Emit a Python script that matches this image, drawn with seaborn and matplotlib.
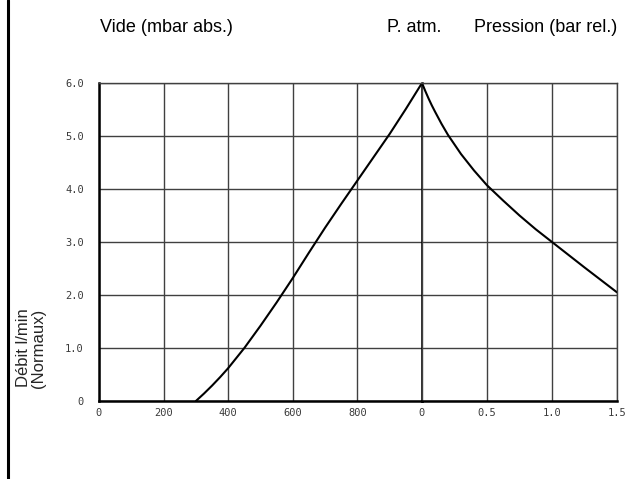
import numpy as np
import pandas as pd
import matplotlib
matplotlib.use("Agg")
import matplotlib.pyplot as plt
from matplotlib.lines import Line2D
import seaborn as sns

# ---- data ----
vide_mbar = [300, 325, 350, 375, 400, 450, 500, 550, 600, 650, 700, 750, 800, 850, 900, 950, 1000]
vide_flow = [0, 0.14, 0.29, 0.45, 0.62, 1.0, 1.42, 1.86, 2.32, 2.8, 3.27, 3.72, 4.16, 4.6, 5.04, 5.51, 6.0]

pression_bar = [0, 0.025, 0.05, 0.075, 0.1, 0.15, 0.2, 0.3, 0.4, 0.5, 0.625, 0.75, 0.875, 1.0, 1.25, 1.5]
pression_flow = [6.0, 5.85, 5.71, 5.58, 5.46, 5.23, 5.02, 4.66, 4.35, 4.07, 3.78, 3.5, 3.24, 3.0, 2.52, 2.05]

vide_ticks = [0, 200, 400, 600, 800, 1000]
vide_labels = ["0", "200", "400", "600", "800", ""]
pression_ticks = [0, 0.5, 1.0, 1.5]
pression_labels = ["0", "0.5", "1.0", "1.5"]
flow_ticks = [0, 1, 2, 3, 4, 5, 6]
flow_labels = ["0", "1.0", "2.0", "3.0", "4.0", "5.0", "6.0"]

df_vide = pd.DataFrame({"x": vide_mbar, "y": vide_flow})
df_pres = pd.DataFrame({"x": pression_bar, "y": pression_flow})

sns.set_style("white")
plt.rcParams["font.family"] = ["Liberation Sans", "DejaVu Sans"]

fig = plt.figure(figsize=(6.3, 4.79), dpi=100)
left, right, bottom, top = 99 / 630, 617 / 630, 1 - 401 / 479, 1 - 83 / 479
split = 422 / 630
ax1 = fig.add_axes([left, bottom, split - left, top - bottom])
ax2 = fig.add_axes([split, bottom, right - split, top - bottom])

grid_kw = dict(color="#404040", linewidth=1.0)
tick_font = dict(family="DejaVu Sans Mono", size=7.5, color="#3a3a3a")

for ax, df in ((ax1, df_vide), (ax2, df_pres)):
    sns.lineplot(data=df, x="x", y="y", ax=ax, color="black", linewidth=1.5,
                 sort=False, solid_joinstyle="round")

ax1.set_xlim(0, 1000)
ax2.set_xlim(0, 1.5)
for ax in (ax1, ax2):
    ax.set_ylim(0, 6)
    ax.set_yticks(flow_ticks)
    ax.grid(True, **grid_kw)
    ax.set_xlabel("")
    ax.set_ylabel("")
    ax.tick_params(length=0)
    ax.spines["top"].set(color="#404040", linewidth=1.0)
    ax.spines["bottom"].set(color="black", linewidth=1.8)

ax1.set_xticks(vide_ticks)
ax1.set_xticklabels(vide_labels, fontdict=tick_font)
ax1.set_yticklabels(flow_labels, fontdict=tick_font)
ax1.tick_params(axis="y", pad=11)
ax1.tick_params(axis="x", pad=5)
ax1.spines["left"].set(color="black", linewidth=1.8)
ax1.spines["right"].set(color="black", linewidth=1.8)

ax2.set_xticks(pression_ticks)
ax2.set_xticklabels(pression_labels, fontdict=tick_font)
ax2.set_yticklabels([])
ax2.tick_params(axis="x", pad=5)
ax2.spines["left"].set_visible(False)
ax2.spines["right"].set(color="#404040", linewidth=1.0)

# headings above the chart
head = dict(fontsize=13, color="black", va="baseline")
fig.text(100 / 630, 1 - 32.5 / 479, "Vide (mbar abs.)", ha="left", **head)
fig.text(387 / 630, 1 - 32.5 / 479, "P. atm.", ha="left", **head)
fig.text(617 / 630, 1 - 32.5 / 479, "Pression (bar rel.)", ha="right", **head)

fig.text(31 / 630, 1 - 348 / 479, "Débit l/min\n(Normaux)", rotation=90,
         ha="center", va="center", multialignment="center", fontsize=12,
         linespacing=0.95)

# black frame line on the left edge
fig.add_artist(Line2D([7.5 / 630, 7.5 / 630], [0, 1], color="black", linewidth=2.2))

fig.savefig("out.png", dpi=100)
